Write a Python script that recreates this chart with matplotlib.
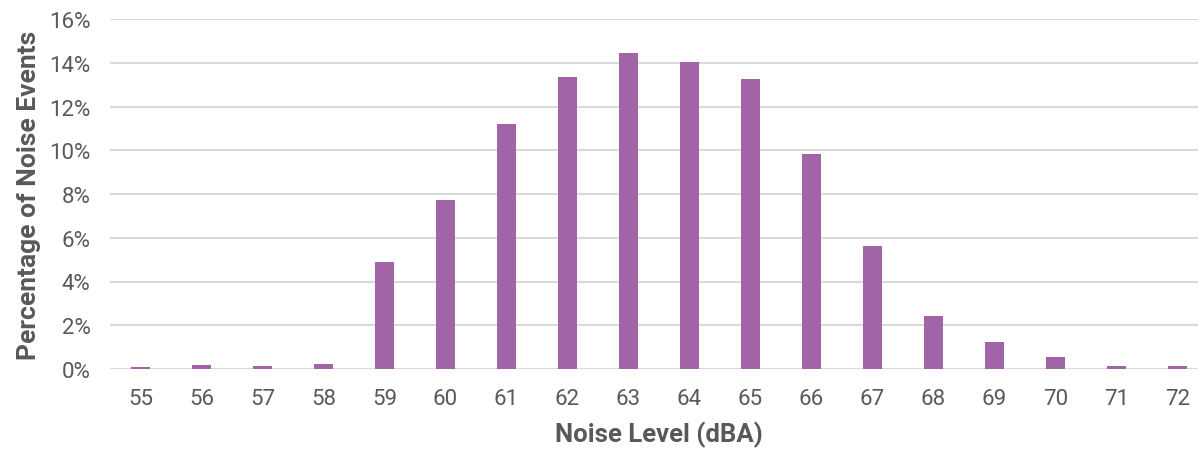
import matplotlib
matplotlib.use("Agg")
import matplotlib.pyplot as plt
from matplotlib.ticker import FuncFormatter

# noise level categories and share of events (%)
levels = [str(v) for v in range(55, 73)]
share = [0.09, 0.18, 0.14, 0.23, 4.89, 7.73, 11.2, 13.35, 14.45,
         14.03, 13.26, 9.83, 5.62, 2.42, 1.23, 0.55, 0.12, 0.12]

plt.rcParams['font.family'] = ['Roboto', 'DejaVu Sans']
txt = '#595959'

fig = plt.figure(figsize=(11.98, 4.52), dpi=100)
ax = fig.add_axes([110/1198, 82/452, 1098/1198, 350/452])

ax.bar(range(len(levels)), share, width=0.31, color='#A164A6', zorder=3)

ax.set_xlim(-0.5, len(levels) - 0.5)
ax.set_ylim(0, 16)
ax.set_yticks(range(0, 17, 2))
ax.yaxis.set_major_formatter(FuncFormatter(lambda v, p: f"{v:.0f}%"))
ax.set_xticks(range(len(levels)))
ax.set_xticklabels(levels)

ax.grid(axis='y', color='#D9D9D9', linewidth=1.5, zorder=0)
for s in ax.spines.values():
    s.set_visible(False)
ax.tick_params(axis='both', length=0, labelsize=16, colors=txt)
ax.tick_params(axis='x', pad=14)
ax.tick_params(axis='y', pad=14)

ax.set_xlabel("Noise Level (dBA)", fontsize=18.5, fontweight='bold', color=txt, labelpad=8)
ax.set_ylabel("Percentage of Noise Events", fontsize=19, fontweight='bold', color=txt, labelpad=6)

fig.savefig("out.png", dpi=100)
